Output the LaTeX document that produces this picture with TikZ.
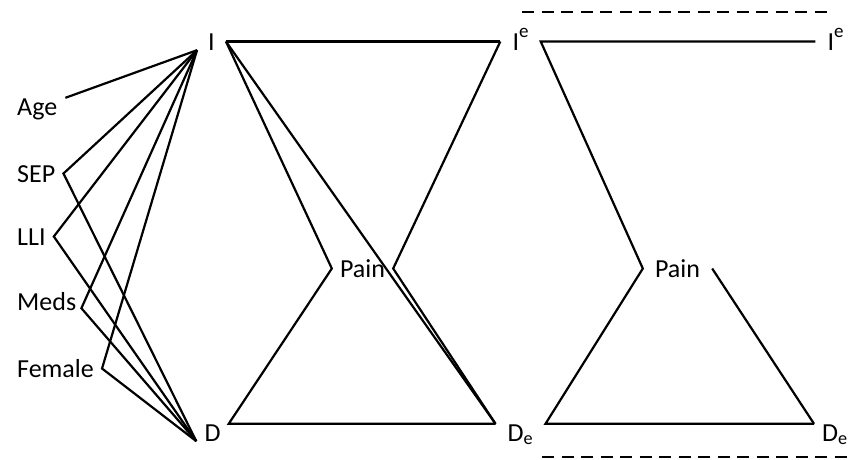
\documentclass[tikz,border=0pt]{standalone}
\usepackage{fontspec}
\setmainfont{Carlito}
\usetikzlibrary{positioning}
\newcommand{\upe}{\raisebox{13pt}{\fontsize{19}{20}\selectfont e}}
\tikzset{
  pn label/.style={font=\fontsize{26}{30}\selectfont, inner xsep=8pt, inner ysep=0pt,
    text height=17pt, text depth=0pt},
  pn wide/.style={pn label, inner xsep=12pt},
  pn link/.style={draw=black, line width=2.2pt, line join=miter},
  pn cut/.style={draw=black, line width=2.2pt, dash pattern=on 12pt off 7.5pt}
}

\begin{document}
\begin{tikzpicture}[x=1pt, y=-1pt]
  \useasboundingbox (0,0) rectangle (850,459);
  % covariates
  \node[pn label, anchor=base west] (age) at (9,115) {Age};
  \node[pn label, anchor=base west] (sep) at (9,182) {SEP};
  \node[pn label, anchor=base west] (lli) at (9,245) {LLI};
  \node[pn label, inner xsep=5pt, inner ysep=-2pt, anchor=base west] (meds) at (12,310) {Meds};
  \node[pn label, anchor=base west] (female) at (9,377) {Female};
  % first wave
  \node[pn label, inner xsep=11pt, anchor=base] (I) at (211.5,50) {I};
  \node[pn label, anchor=base] (D) at (212.5,441) {D};
  \node[pn label, anchor=base] (pain1) at (362.5,277) {Pain};
  % second wave
  \node[pn wide, anchor=base] (Ie1) at (520.5,50) {I\upe};
  \node[pn wide, anchor=base] (De1) at (520.5,441) {D\textsubscript{e}};
  \node[pn wide, anchor=base] (pain2) at (677.5,277) {Pain};
  \node[pn wide, anchor=base] (Ie2) at (835.5,50) {I\upe};
  \node[pn label, anchor=base] (De2) at (835,441) {D\textsubscript{e}};

  \draw[pn link] (age.north east) -- (I.south west);
  \foreach \v in {sep,lli,female} {\draw[pn link] (I.south west) -- (\v.east) -- (D.south west);}
  \draw[pn link] (I.south west) -- (meds.south east) -- (D.south west);

  \draw[pn link] (I.east) -- (Ie1.west);
  \draw[pn link] (I.east) -- (pain1.west) -- (D.north east) -- (De1.north west);
  \draw[pn link] (I.east) -- (De1.north west);
  \draw[pn link] (Ie1.west) -- (pain1.east) -- (De1.north west);

  \draw[pn link] (Ie2.west) -- (Ie1.east) -- (pain2.west) -- (De1.north east) -- (De2.north west);
  \draw[pn link] (pain2.east) -- (De2.north west);

  \draw[pn cut] (522,12) -- (832,12);
  \draw[pn cut] (542,457) -- (848,457);
\end{tikzpicture}
\end{document}
